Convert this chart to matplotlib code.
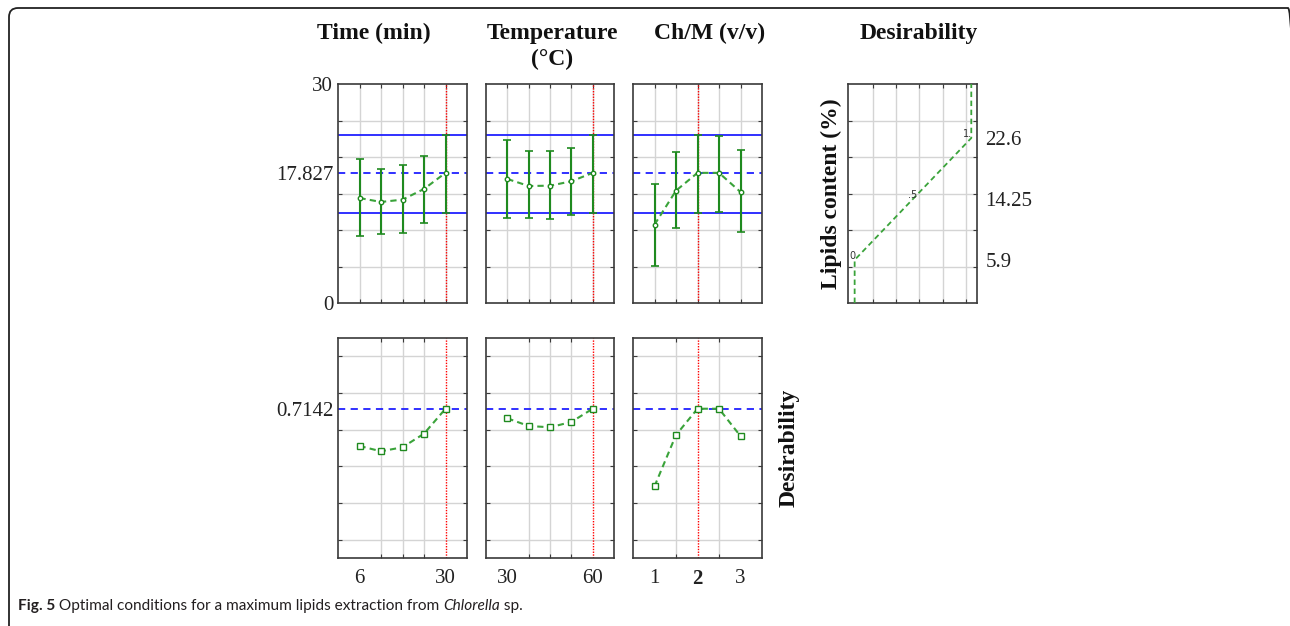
import matplotlib
matplotlib.use("Agg")
import matplotlib.pyplot as plt
from matplotlib.patches import FancyBboxPatch
from matplotlib.transforms import IdentityTransform

# ---------------- data ----------------
time_levels = [6, 12, 18, 24, 30]
time_pred = [14.38, 13.84, 14.16, 15.62, 17.827]
time_low = [9.13, 9.45, 9.59, 10.96, 12.33]
time_high = [19.77, 18.40, 18.90, 20.09, 23.01]
time_desir = [0.511, 0.482, 0.504, 0.578, 0.7142]

temp_levels = [30, 37.5, 45, 52.5, 60]
temp_pred = [16.99, 16.03, 16.07, 16.67, 17.827]
temp_low = [11.69, 11.69, 11.51, 12.01, 12.33]
temp_high = [22.33, 20.82, 20.82, 21.19, 23.01]
temp_desir = [0.662, 0.620, 0.613, 0.642, 0.7142]

chm_levels = [1, 1.5, 2, 2.5, 3]
chm_pred = [10.73, 15.39, 17.827, 17.827, 15.21]
chm_low = [5.11, 10.27, 12.33, 12.51, 9.73]
chm_high = [16.30, 20.64, 23.01, 22.87, 20.96]
chm_desir = [0.291, 0.571, 0.7142, 0.7142, 0.565]

optimum = [30, 60, 2]
opt_pred = 17.827
opt_low = 12.33
opt_high = 23.01
opt_desir = 0.7142

desir_x = [0, 0.5, 1]
desir_y = [5.9, 14.25, 22.6]
desir_labels = ["0", ".5", "1."]

titles = ["Time (min)", "Temperature\n(\u00b0C)", "Ch/M (v/v)", "Desirability"]
xlims = [(0, 36), (22.5, 67.5), (0.5, 3.5)]
xtick_pos = [[6, 30], [30, 60], [1, 2, 3]]
xtick_lab = [["6", "30"], ["30", "60"], ["1", "2", "3"]]

# ---------------- style ----------------
W, H = 1290, 626
fig = plt.figure(figsize=(W / 100, H / 100), dpi=100)
SERIF = ["Liberation Serif", "DejaVu Serif"]
GREEN = "#1f8a1f"
GREEN_L = "#3aa33a"
BLUE = "#2020ff"
GRID = "#d4d4d4"
SPINE = "#3a3a3a"
TICK_FS = 15
TITLE_FS = 17


def px_axes(x0, y0, x1, y1):
    return fig.add_axes([x0 / W, 1 - y1 / H, (x1 - x0) / W, (y1 - y0) / H])


def style(ax, xgrid, ygrid):
    ax.set_xticks(xgrid, minor=True)
    ax.set_yticks(ygrid, minor=True)
    ax.grid(which="minor", color=GRID, lw=1.0, zorder=0)
    ax.tick_params(which="minor", direction="in", length=3, top=True, right=True,
                   bottom=True, left=True, color=SPINE, width=0.8)
    ax.tick_params(which="major", length=0, labelsize=TICK_FS)
    for s in ax.spines.values():
        s.set_color(SPINE)
        s.set_linewidth(1.2)
    ax.set_axisbelow(True)


cols_x = [(338, 467), (486, 614), (633, 762)]
top_y = (84, 303)
bot_y = (338, 558)

levels = [time_levels, temp_levels, chm_levels]
preds = [time_pred, temp_pred, chm_pred]
lows = [time_low, temp_low, chm_low]
highs = [time_high, temp_high, chm_high]
desirs = [time_desir, temp_desir, chm_desir]

ygrid_top = [5, 10, 15, 20, 25]
ygrid_bot = [0, 0.2, 0.4, 0.6, 0.8, 1.0]

for i in range(3):
    x0, x1 = cols_x[i]
    lv = levels[i]
    # ---- top panel ----
    ax = px_axes(x0, top_y[0], x1, top_y[1])
    style(ax, lv, ygrid_top)
    ax.set_xlim(*xlims[i])
    ax.set_ylim(0, 30)
    ax.axhline(opt_high, color=BLUE, lw=1.3, zorder=2)
    ax.axhline(opt_low, color=BLUE, lw=1.3, zorder=2)
    ax.axhline(opt_pred, color=BLUE, lw=1.3, ls=(0, (4, 3)), zorder=2)
    ax.axvline(optimum[i], color="red", lw=1.0, ls=(0, (1, 1)), zorder=2)
    err = [[p - l for p, l in zip(preds[i], lows[i])],
           [h - p for p, h in zip(preds[i], highs[i])]]
    ax.errorbar(lv, preds[i], yerr=err, fmt="none", ecolor=GREEN, elinewidth=1.5,
                capsize=3, capthick=1.2, zorder=3)
    ax.plot(lv, preds[i], color=GREEN_L, lw=1.5, ls=(0, (3, 2)), zorder=4)
    ax.plot(lv, preds[i], ls="none", marker="o", ms=3.2, mfc="white", mec=GREEN,
            mew=1.0, zorder=5)
    ax.set_xticks([])
    if i == 0:
        ax.set_yticks([0, opt_pred, 30])
        ax.set_yticklabels(["0", "17.827", "30"], family=SERIF, color="#222")
    else:
        ax.set_yticks([])
    # ---- bottom panel ----
    axb = px_axes(x0, bot_y[0], x1, bot_y[1])
    style(axb, lv, ygrid_bot)
    axb.set_xlim(*xlims[i])
    axb.set_ylim(-0.1, 1.1)
    axb.axhline(opt_desir, color=BLUE, lw=1.3, ls=(0, (4, 3)), zorder=2)
    axb.axvline(optimum[i], color="red", lw=1.0, ls=(0, (1, 1)), zorder=2)
    axb.plot(lv, desirs[i], color=GREEN_L, lw=1.5, ls=(0, (3, 2)), zorder=4)
    axb.plot(lv, desirs[i], ls="none", marker="s", ms=4, mfc="white", mec=GREEN,
             mew=1.0, zorder=5)
    axb.set_xticks(xtick_pos[i])
    labs = axb.set_xticklabels(xtick_lab[i], family=SERIF, color="#222")
    axb.tick_params(axis="x", pad=8)
    if i == 2:
        labs[1].set_fontweight("bold")
        axb.yaxis.set_label_position("right")
        axb.set_ylabel("Desirability", family=SERIF, fontweight="bold",
                       fontsize=TITLE_FS, color="#111", labelpad=12)
    if i == 0:
        axb.set_yticks([opt_desir])
        axb.set_yticklabels(["0.7142"], family=SERIF, color="#222")
    else:
        axb.set_yticks([])

# ---- desirability function panel ----
axd = px_axes(848, top_y[0], 977, top_y[1])
style(axd, [0.154, 0.354, 0.554, 0.754, 0.954], ygrid_top)
axd.set_xlim(-0.057, 1.049)
axd.set_ylim(0, 30)
dx = [desir_x[0]] + desir_x + [desir_x[-1]]
dy = [0] + desir_y + [30]
axd.plot(dx, dy, color=GREEN_L, lw=1.3, ls=(0, (3, 2)), zorder=4)
offs = [(-0.02, 0.6), (0.0, 0.5), (-0.03, 0.6)]
for x, y, t, (ox, oy) in zip(desir_x, desir_y, desir_labels, offs):
    axd.text(x + ox, y + oy, t, fontsize=7, color="#333", ha="center", va="center",
             zorder=6)
axd.set_xticks([])
axd.yaxis.tick_right()
axd.set_yticks(desir_y)
axd.set_yticklabels(["5.9", "14.25", "22.6"], family=SERIF, color="#222")
axd.tick_params(which="major", pad=6)
axd.tick_params(which="minor", left=True, right=True)
axd.set_ylabel("Lipids content (%)", family=SERIF, fontweight="bold",
               fontsize=TITLE_FS, color="#111", labelpad=4)

# ---- titles ----
title_pos = [(374, 33), (552, 33), (710, 33), (919, 33)]
for t, (x, y) in zip(titles, title_pos):
    for k, ln in enumerate(t.split("\n")):
        fig.text(x / W, 1 - (y + 26 * k) / H, ln, family=SERIF, fontweight="bold",
                 fontsize=TITLE_FS, ha="center", va="center", color="#111")

# ---- frame (pixel coordinates, y measured from bottom) ----
frame = FancyBboxPatch((9, -20), 1297 - 9, (H - 8) + 20,
                       boxstyle="round,pad=0,rounding_size=9",
                       transform=IdentityTransform(), fill=False, ec="#222", lw=1.3)
fig.patches.append(frame)

# ---- caption ----
renderer = fig.canvas.get_renderer()
cap_parts = [("Fig. 5", "bold", "normal"),
             (" Optimal conditions for a maximum lipids extraction from ", "normal", "normal"),
             ("Chlorella", "normal", "italic"),
             (" sp.", "normal", "normal")]
cx = 18
for txt, wt, st in cap_parts:
    tt = fig.text(cx / W, 1 - 610 / H, txt, family=["Lato", "DejaVu Sans"],
                  fontsize=11.1, fontweight=wt, fontstyle=st, color="#231f20",
                  ha="left", va="baseline")
    bb = tt.get_window_extent(renderer)
    cx += bb.width

fig.savefig("out.png", dpi=100)
